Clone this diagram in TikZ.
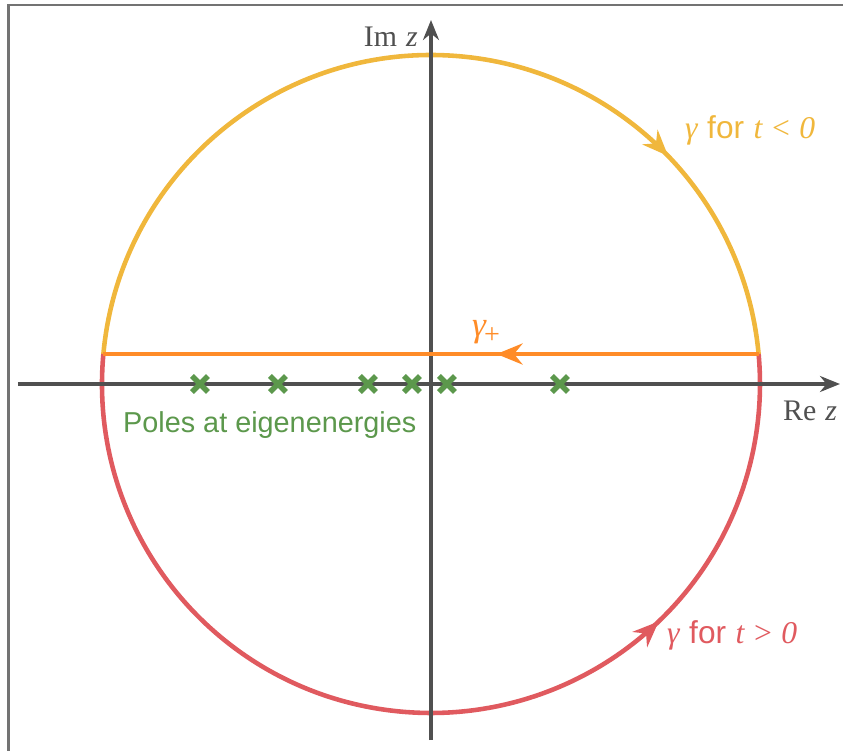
\documentclass[tikz,border=0pt]{standalone}
\usepackage{amsmath,amssymb}
\usepackage{fontspec}
\usepackage{xcolor}
\usepackage{tikz}
\usetikzlibrary{arrows.meta,decorations.markings}
\newfontfamily\labelsf{Liberation Sans}
\newfontfamily\labelrm{Liberation Serif}
\newcommand{\vr}[1]{{\labelrm\itshape #1}}
\definecolor{upperc}{RGB}{240,183,60}
\definecolor{lowerc}{RGB}{224,90,95}
\definecolor{chordc}{RGB}{255,140,40}
\definecolor{polec}{RGB}{92,152,76}
\definecolor{axisc}{RGB}{80,80,80}

\begin{document}
\begin{tikzpicture}[x=0.02cm,y=0.02cm,
  every node/.style={font=\fontsize{17}{20}\selectfont},
  axis/.style={axisc,line width=1.8pt,-{Stealth[length=4mm,width=3.2mm]}},
  contour/.style={line width=2.6pt},
  midarrow/.style={postaction={decorate,decoration={markings,
    mark=at position #1 with {\arrow{Stealth[length=5.2mm,width=4.2mm,inset=1.7mm]}}}}},
  pole/.style={polec,line width=3.2pt}]
 \useasboundingbox (-431,-367) rectangle (412,384);
 \clip (-431,-367) rectangle (412,384);
 \draw[gray!90!black,line width=1.2pt] (-422.5,379) rectangle (460,-420);
 % contour gamma
 \draw[contour,upperc,midarrow=0.772] (174.77:329) arc[start angle=174.77,end angle=5.23,radius=329];
 \draw[contour,lowerc,midarrow=0.73] (174.77:329) arc[start angle=174.77,end angle=365.23,radius=329];
 % axes
 \draw[axis] (-413,0) -- (409,0);
 \draw[axis] (0,-356) -- (0,364);
 \node[anchor=east,axisc] (imz) at (-7,347) {{\labelrm Im} \vr{z}};
 \node[axisc] (rez) at (379,-27) {{\labelrm Re} \vr{z}};
 % gamma_+
 \draw[contour,chordc,midarrow=0.40] (5.23:329) -- (174.77:329);
 \node[chordc,font=\fontsize{20}{23}\selectfont] (gp) at (55,52) {\vr{γ}\kern-1pt\raisebox{-0.45ex}{\fontsize{16}{18}\selectfont\labelrm +}};
 \node[anchor=west,upperc,font=\fontsize{18}{21}\selectfont] (gneg) at (248,254) {\vr{γ} {\labelsf for} \vr{t} {\labelrm <} \vr{0}};
 \node[anchor=west,lowerc,font=\fontsize{18}{21}\selectfont] (gpos) at (230,-251) {\vr{γ} {\labelsf for} \vr{t} {\labelrm >} \vr{0}};
 % poles
 \foreach \p in {-231,-153,-63,-19,16,129}
  \draw[pole] (\p-8,-8) -- (\p+8,8) (\p-8,8) -- (\p+8,-8);
 \node[anchor=west,polec,font=\labelsf\fontsize{16.4}{19}\selectfont] (poles) at (-314,-41) {Poles at eigenenergies};
\end{tikzpicture}
\end{document}
